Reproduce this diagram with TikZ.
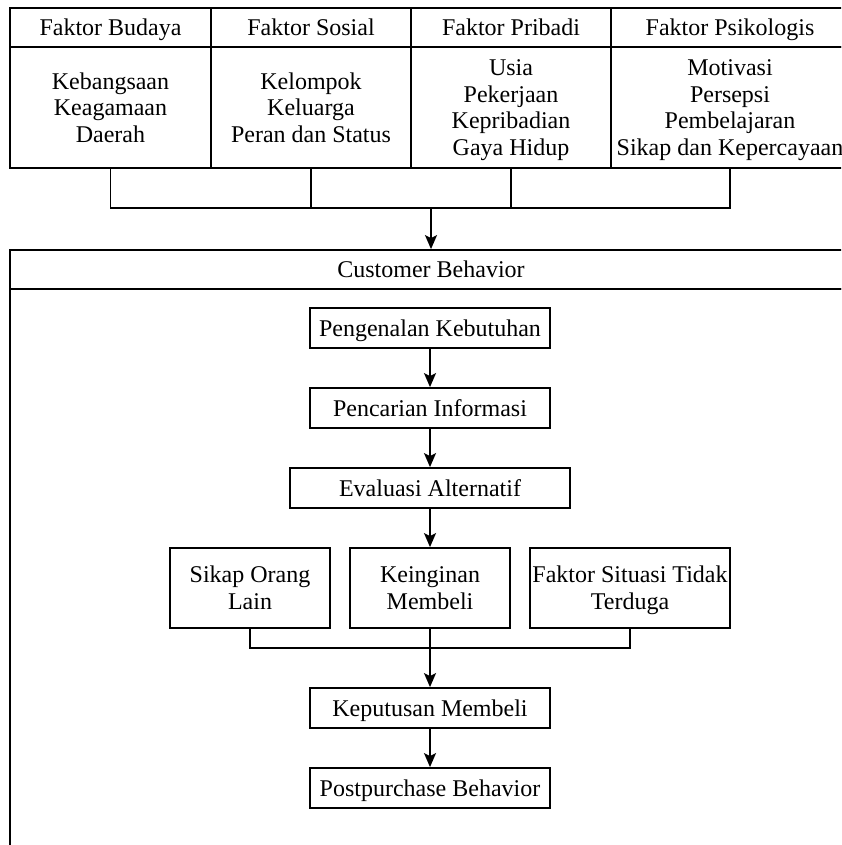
\documentclass[tikz,border=0pt]{standalone}
\usepackage{fontspec}
\setmainfont{Liberation Serif}
\usetikzlibrary{arrows.meta}
\begin{document}
\begin{tikzpicture}[x=1pt,y=-1pt,
  every node/.style={font=\fontsize{24pt}{26.7pt}\selectfont, align=center, inner sep=0pt, text depth=0pt},
  cell/.style={draw, line width=1.8pt, rectangle},
  link/.style={line width=1.8pt},
  arr/.style={link, -{Stealth[length=14pt,width=12pt,inset=3pt]}}
]
\useasboundingbox (0,0) rectangle (841,845);
\clip (0,0) rectangle (841,845);

% factor table: header row
\node[cell, minimum width=201pt, minimum height=39pt] (hd1) at (110.5,27.5) {Faktor Budaya};
\node[cell, minimum width=200pt, minimum height=39pt] (hd2) at (311,27.5) {Faktor Sosial};
\node[cell, minimum width=200pt, minimum height=39pt] (hd3) at (511,27.5) {Faktor Pribadi};
\node[cell, minimum width=238pt, minimum height=39pt] (hd4) at (730,27.5) {Faktor Psikologis};
% factor table: body row
\node[cell, minimum width=201pt, minimum height=121pt] (bd1) at (110.5,107.5) {Kebangsaan\\Keagamaan\\Daerah};
\node[cell, minimum width=200pt, minimum height=121pt] (bd2) at (311,107.5) {Kelompok\\Keluarga\\Peran dan Status};
\node[cell, minimum width=200pt, minimum height=121pt] (bd3) at (511,107.5) {Usia\\Pekerjaan\\Kepribadian\\Gaya Hidup};
\node[cell, minimum width=238pt, minimum height=121pt] (bd4) at (730,107.5) {Motivasi\\Persepsi\\Pembelajaran\\Sikap dan Kepercayaan};

% customer behavior container
\node[cell, minimum width=842pt, minimum height=39pt] (cbh) at (431,269.5) {Customer Behavior};
\node[cell, minimum width=842pt, minimum height=611pt] (cbb) at (431,594.5) {};

% decision process
\node[cell, minimum width=240pt, minimum height=40pt] (pk) at (430,328) {Pengenalan Kebutuhan};
\node[cell, minimum width=240pt, minimum height=40pt] (pi) at (430,408) {Pencarian Informasi};
\node[cell, minimum width=280pt, minimum height=40pt] (ea) at (430,488) {Evaluasi Alternatif};
\node[cell, minimum width=160pt, minimum height=80pt] (so) at (250,588) {Sikap Orang\\Lain};
\node[cell, minimum width=160pt, minimum height=80pt] (km) at (430,588) {Keinginan\\Membeli};
\node[cell, minimum width=200pt, minimum height=80pt] (fs) at (630,588) {Faktor Situasi Tidak\\Terduga};
\node[cell, minimum width=240pt, minimum height=40pt] (kp) at (430,708) {Keputusan Membeli};
\node[cell, minimum width=240pt, minimum height=40pt] (pb) at (430,788) {Postpurchase Behavior};

% junctions
\coordinate (jt) at (431,208);
\coordinate (jb) at (430,648);

% factors merge into customer behavior
\draw[link] (bd1.south) |- (jt) -| (bd4.south);
\draw[link] (bd2.south) -- (bd2.south |- jt);
\draw[link] (bd3.south) -- (bd3.south |- jt);
\draw[arr] (jt) -- (cbh.north);

% process arrows
\draw[arr] (pk) -- (pi);
\draw[arr] (pi) -- (ea);
\draw[arr] (ea) -- (km);
\draw[link] (so.south) |- (jb) -| (fs.south);
\draw[arr] (km) -- (kp);
\draw[arr] (kp) -- (pb);
\end{tikzpicture}
\end{document}
